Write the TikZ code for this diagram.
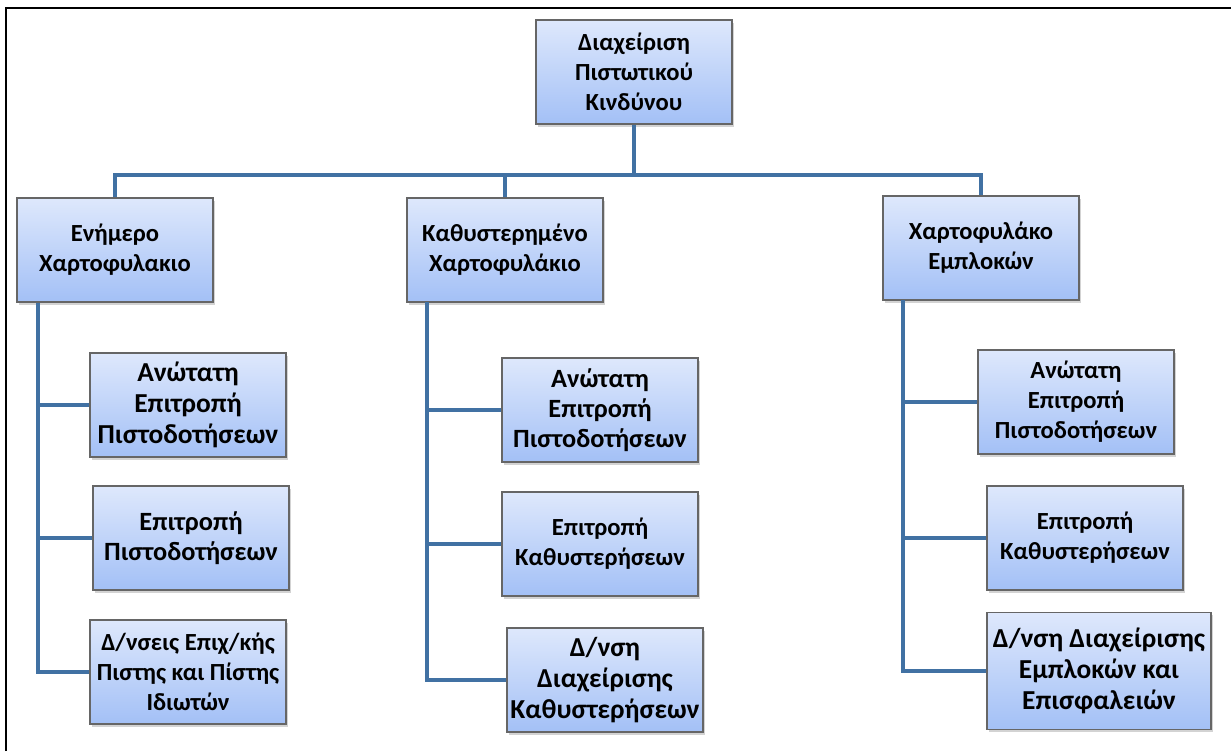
\documentclass[tikz,border=0pt]{standalone}
\usepackage{fontspec}
\setmainfont{Carlito}
\usetikzlibrary{shadows}
\definecolor{linkblue}{RGB}{65,113,163}
\definecolor{boxtop}{RGB}{222,232,252}
\definecolor{boxbot}{RGB}{163,192,246}
\begin{document}
\begin{tikzpicture}[x=0.02cm, y=-0.02cm,
    unit/.style={draw=gray!80!black, line width=0.7pt, top color=boxtop, bottom color=boxbot,
        drop shadow={opacity=0.35, shadow xshift=1.2pt, shadow yshift=-1.6pt},
        align=center, inner sep=2pt, minimum width=196*0.02cm, minimum height=104*0.02cm,
        font=\bfseries\fontsize{14}{17}\selectfont},
    midtext/.style={font=\bfseries\fontsize{15}{17}\selectfont},
    bigtext/.style={font=\bfseries\fontsize{15.6}{17.5}\selectfont},
    link/.style={draw=linkblue, line width=2.8pt}]
    \useasboundingbox (0,0) rectangle (1231,751);
    % frame
    \draw[line width=1.6pt] (6,751) -- (6,8) -- (1231,8);

    % head and the three portfolios
    \node[unit] (risk) at (634,72) {Διαχείριση\\Πιστωτικού\\Κινδύνου};
    \node[unit] (current) at (115,250) {Ενήμερο\\Χαρτοφυλακιο};
    \node[unit] (late) at (505,250) {Καθυστερημένο\\Χαρτοφυλάκιο};
    \node[unit] (bad) at (981,248) {Χαρτοφυλάκο\\Εμπλοκών};

    % units under each portfolio
    \node[unit, bigtext] (curA) at (188,405) {Ανώτατη\\Επιτροπή\\Πιστοδοτήσεων};
    \node[unit, midtext] (curB) at (191,538) {Επιτροπή\\Πιστοδοτήσεων};
    \node[unit] (curC) at (188,672) {Δ/νσεις Επιχ/κής\\Πιστης και Πίστης\\Ιδιωτών};
    \node[unit, midtext] (lateA) at (600,410) {Ανώτατη\\Επιτροπή\\Πιστοδοτήσεων};
    \node[unit] (lateB) at (600,544) {Επιτροπή\\Καθυστερήσεων};
    \node[unit, bigtext] (lateC) at (605,680) {Δ/νση\\Διαχείρισης\\Καθυστερήσεων};
    \node[unit] (badA) at (1076,402) {Ανώτατη\\Επιτροπή\\Πιστοδοτήσεων};
    \node[unit] (badB) at (1085,538) {Επιτροπή\\Καθυστερήσεων};
    \node[unit, bigtext, minimum width=224*0.02cm, minimum height=117*0.02cm] (badC) at (1099,671) {Δ/νση Διαχείρισης\\Εμπλοκών και\\Επισφαλειών};

    % connectors
    \coordinate (bus) at (634,175);
    \draw[link] (risk.south) -- (bus);
    \draw[link] (bus) -| (current.north);
    \draw[link] (bus) -| (bad.north);
    \draw[link] (bus -| late.north) -- (late.north);

    \coordinate (curspine) at (38,303);
    \coordinate (latespine) at (427,302);
    \coordinate (badspine) at (903,300);
    \draw[link] (curspine) |- (curC.west);
    \draw[link] (curspine |- curA.west) -- (curA.west);
    \draw[link] (curspine |- curB.west) -- (curB.west);
    \draw[link] (latespine) |- (lateC.west);
    \draw[link] (latespine |- lateA.west) -- (lateA.west);
    \draw[link] (latespine |- lateB.west) -- (lateB.west);
    \draw[link] (badspine) |- (badC.west);
    \draw[link] (badspine |- badA.west) -- (badA.west);
    \draw[link] (badspine |- badB.west) -- (badB.west);
\end{tikzpicture}
\end{document}
